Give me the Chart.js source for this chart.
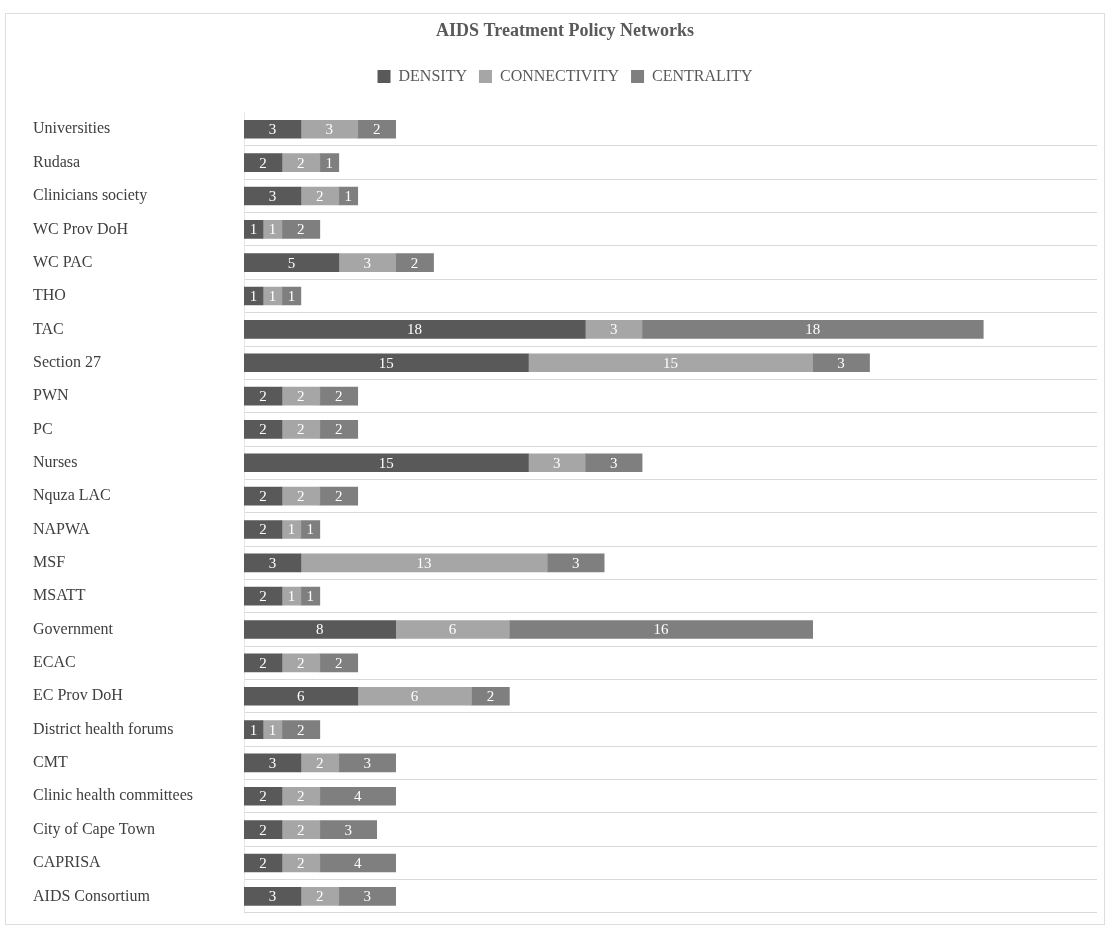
<!DOCTYPE html>
<html>
<head>
<meta charset="utf-8">
<script src="https://cdn.jsdelivr.net/npm/chart.js@4.4.1/dist/chart.umd.min.js"></script>
<style>
  html, body { margin: 0; padding: 0; background: #fff; }
  #wrap { position: absolute; left: 0; top: 0; width: 1107px; height: 927px; }
  #frame { position: absolute; left: 5px; top: 13px; width: 1100px; height: 912px; border: 1px solid #dedede; box-sizing: border-box; }
  canvas { position: absolute; left: 0; top: 0; }
</style>
</head>
<body>
<div id="wrap">
  <div id="frame"></div>
  <canvas id="c" width="1107" height="927"></canvas>
</div>
<script>
const categories = [
  "Universities", "Rudasa", "Clinicians society", "WC Prov DoH", "WC PAC", "THO",
  "TAC", "Section 27", "PWN", "PC", "Nurses", "Nquza LAC", "NAPWA", "MSF", "MSATT",
  "Government", "ECAC", "EC Prov DoH", "District health forums", "CMT",
  "Clinic health committees", "City of Cape Town", "CAPRISA", "AIDS Consortium"
];
const density      = [3, 2, 3, 1, 5, 1, 18, 15, 2, 2, 15, 2, 2, 3, 2, 8, 2, 6, 1, 3, 2, 2, 2, 3];
const connectivity = [3, 2, 2, 1, 3, 1, 3, 15, 2, 2, 3, 2, 1, 13, 1, 6, 2, 6, 1, 2, 2, 2, 2, 2];
const centrality   = [2, 1, 1, 2, 2, 1, 18, 3, 2, 2, 3, 2, 1, 3, 1, 16, 2, 2, 2, 3, 4, 3, 4, 3];
const seriesNames  = ["DENSITY", "CONNECTIVITY", "CENTRALITY"];
const seriesColors = ["#595959", "#a6a6a6", "#7f7f7f"];

const FONT = "'Liberation Serif', 'Times New Roman', serif";

const labelPlugin = {
  id: 'segLabels',
  beforeInit(chart) {
    const lg = chart.legend;
    if (lg) {
      const orig = lg.fit;
      lg.fit = function () { orig.call(this); this.height += 18; };
    }
  },
  afterDatasetsDraw(chart) {
    const ctx = chart.ctx;
    ctx.save();
    ctx.fillStyle = '#ffffff';
    ctx.font = "15px " + FONT;
    ctx.textAlign = 'center';
    ctx.textBaseline = 'middle';
    chart.data.datasets.forEach((ds, di) => {
      const meta = chart.getDatasetMeta(di);
      meta.data.forEach((bar, i) => {
        const v = ds.data[i];
        if (!v) return;
        const p = bar.getProps(['x', 'y', 'base'], true);
        ctx.fillText(String(v), (p.x + p.base) / 2, p.y + 1);
      });
    });
    ctx.restore();
  }
};

new Chart(document.getElementById('c'), {
  type: 'bar',
  data: {
    labels: categories,
    datasets: [density, connectivity, centrality].map((d, i) => ({
      label: seriesNames[i],
      data: d,
      backgroundColor: seriesColors[i],
      borderWidth: 0,
      barThickness: 18
    }))
  },
  options: {
    indexAxis: 'y',
    responsive: false,
    animation: false,
    layout: { padding: { left: 33, right: 10, top: 2, bottom: 6 } },
    plugins: {
      title: {
        display: true,
        text: 'AIDS Treatment Policy Networks',
        color: '#595959',
        font: { family: FONT, size: 18, weight: 'bold' },
        padding: { top: 19, bottom: 14 }
      },
      legend: {
        display: true,
        labels: {
          color: '#595959',
          font: { family: FONT, size: 16 },
          boxWidth: 13,
          boxHeight: 13,
          padding: 12
        }
      },
      tooltip: { enabled: false }
    },
    scales: {
      x: {
        stacked: true,
        min: 0,
        max: 45,
        ticks: { display: false },
        grid: { display: false },
        border: { display: false }
      },
      y: {
        stacked: true,
        afterFit(scale) { scale.width = 211; },
        ticks: {
          crossAlign: 'far',
          color: '#404040',
          font: { family: FONT, size: 16 }
        },
        grid: {
          offset: true,
          drawTicks: false,
          color: (c) => c.index === 0 ? 'rgba(0,0,0,0)' : '#d9d9d9',
          lineWidth: 1
        },
        border: { display: true, color: '#e6e6e6' }
      }
    }
  },
  plugins: [labelPlugin]
});
</script>
</body>
</html>
